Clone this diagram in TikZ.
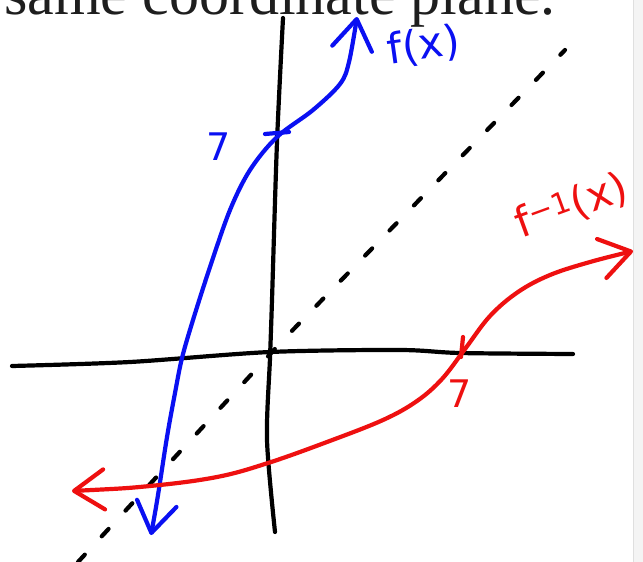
\documentclass[tikz,border=0pt]{standalone}
\usepackage{fontspec}
\setmainfont{Liberation Serif}
\newfontfamily\penfont{DejaVu Sans}
\usetikzlibrary{arrows.meta}
\definecolor{PenBlue}{HTML}{0A10F2}
\definecolor{PenRed}{HTML}{EE1010}
\definecolor{PageInk}{HTML}{1E1E1E}
\definecolor{EdgeGray}{HTML}{F4F4F4}
\tikzset{
  axisline/.style={draw=black, line width=4.2pt, line cap=round, line join=round},
  mirrorline/.style={draw=black, line width=4.2pt, line cap=round, dash pattern=on 10pt off 25pt},
  fcurve/.style={draw=PenBlue, line width=4.2pt, line cap=round, line join=round},
  invcurve/.style={draw=PenRed, line width=4.2pt, line cap=round, line join=round},
  penbarbs/.style={{Straight Barb[length=30pt,width=40pt,round]}-{Straight Barb[length=30pt,width=40pt,round]}},
  penlabel/.style={inner sep=0pt, font=\penfont\fontsize{42}{46}\selectfont},
  sevenlabel/.style={inner sep=0pt, font=\penfont\fontsize{38}{40}\selectfont},
  headtext/.style={anchor=base west, inner sep=0pt, text=PageInk, font=\fontsize{60}{62}\selectfont}
}
\begin{document}
\begin{tikzpicture}[x=1pt,y=-1pt]
  \useasboundingbox (0,0) rectangle (643,562);
  \clip (0,0) rectangle (643,562);
  \fill[white] (0,0) rectangle (643,562);
  \fill[EdgeGray] (633,0) rectangle (643,562);
  \draw[gray!25, line width=0.8pt] (633,0) -- (633,562);

  % heading cut off at the top
  \node[headtext] (head) at (4,15) {same coordinate plane.};

  % axes and the line y = x
  \draw[axisline] plot[smooth] coordinates {(283,18) (277,142) (272,300) (270,358) (267,440) (275,532)};
  \draw[axisline] plot[smooth] coordinates {(12,366) (130,362) (270,352) (400,350) (460,353) (573,354)};
  \draw[mirrorline] (78,562) -- (285,338) -- (565,50);

  % f(x)
  \draw[fcurve, penbarbs] plot[smooth, tension=0.55] coordinates {(151,535) (158,495) (167,437) (175,393) (182,358) (193,320) (210,267) (230,210) (250,170) (277,137) (313,110) (340,84) (349,62) (357,17)};
  \draw[fcurve] (265,134) -- (289,132);
  \node[penlabel, text=PenBlue, rotate=8] (flab) at (424,46) {f(x)};
  \node[sevenlabel, text=PenBlue] (yseven) at (219,147) {7};

  % inverse
  \draw[invcurve, penbarbs] plot[smooth, tension=0.6] coordinates {(72,491) (150,486) (217,477) (268,463) (327,442) (383,420) (417,401) (442,379) (465,349) (490,316) (518,292) (550,275) (590,262) (633,251)};
  \draw[invcurve] (463,337) -- (461,357);
  \node[penlabel, text=PenRed, rotate=20] (finvlab) at (572,206) {f\textsuperscript{−1}(x)};
  \node[sevenlabel, text=PenRed] (xseven) at (460,394) {7};
\end{tikzpicture}
\end{document}
